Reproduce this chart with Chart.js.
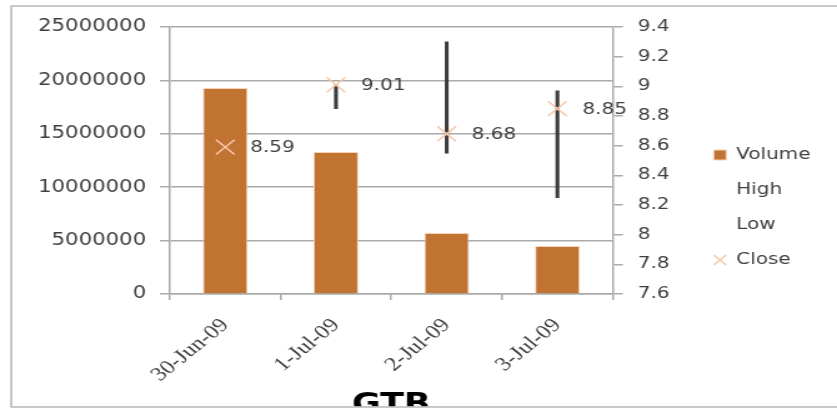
<!DOCTYPE html>
<html>
<head>
<meta charset="utf-8">
<script src="https://cdn.jsdelivr.net/npm/chart.js@4/dist/chart.umd.min.js"></script>
<style>
  html, body { margin: 0; padding: 0; background: #ffffff; }
</style>
</head>
<body>
<!-- The chart is drawn on a narrower canvas and shown stretched across the page width. -->
<canvas id="gtb" width="670" height="409" style="display:block;width:837px;height:409px;"></canvas>
<script>
// GTB daily trading, 30 Jun – 3 Jul 2009
const dates  = ['30-Jun-09', '1-Jul-09', '2-Jul-09', '3-Jul-09'];
const volume = [19300000, 13300000, 5700000, 4500000];
const high   = [8.80, 9.01, 9.30, 8.97];
const low    = [8.50, 8.85, 8.55, 8.25];
const close  = [8.59, 9.01, 8.68, 8.85];

const BAR_FILL = '#c17332';
const BAR_EDGE = '#f6d2b6';
const CLOSE_COLOR = '#f8c6a8';
const HILO_COLOR = '#3c3c3c';
const TEXT = '#404040';
const GRID = '#aaaaaa';

// Close price written beside each cross marker
const closeLabels = {
  id: 'closeLabels',
  afterDatasetsDraw(chart) {
    const idx = chart.data.datasets.findIndex(d => d.label === 'Close');
    const meta = chart.getDatasetMeta(idx);
    const ctx = chart.ctx;
    ctx.save();
    ctx.font = '16px "DejaVu Sans"';
    ctx.fillStyle = TEXT;
    ctx.textAlign = 'left';
    ctx.textBaseline = 'middle';
    meta.data.forEach((pt, i) => {
      ctx.fillText(close[i].toFixed(2), pt.x + 20, pt.y + 1);
    });
    ctx.restore();
  }
};

// Outer frame around the chart; its bottom edge trims the title
const frame = {
  id: 'frame',
  afterDraw(chart) {
    const ctx = chart.ctx;
    ctx.save();
    ctx.fillStyle = '#ffffff';
    ctx.fillRect(0, 406.5, chart.width, 3);
    ctx.strokeStyle = '#b8b8b8';
    ctx.lineWidth = 1.6;
    ctx.beginPath();
    ctx.moveTo(chart.width + 5, 6);
    ctx.lineTo(9, 6);
    ctx.lineTo(9, 407);
    ctx.lineTo(chart.width + 5, 407);
    ctx.stroke();
    ctx.restore();
  }
};

new Chart(document.getElementById('gtb'), {
  type: 'bar',
  data: {
    labels: dates,
    datasets: [
      {
        label: 'Volume',
        type: 'bar',
        data: volume,
        yAxisID: 'y',
        backgroundColor: BAR_FILL,
        borderColor: BAR_EDGE,
        borderWidth: 1,
        grouped: false,
        barPercentage: 0.405,
        categoryPercentage: 1,
        order: 2
      },
      {
        label: 'High-Low',
        type: 'bar',
        data: dates.map((_, i) => [low[i], high[i]]),
        yAxisID: 'y1',
        backgroundColor: HILO_COLOR,
        borderWidth: 0,
        grouped: false,
        barThickness: 2.4,
        order: 3
      },
      {
        label: 'High',
        type: 'line',
        data: high,
        yAxisID: 'y1',
        showLine: false,
        pointRadius: 0,
        pointHoverRadius: 0,
        order: 4
      },
      {
        label: 'Low',
        type: 'line',
        data: low,
        yAxisID: 'y1',
        showLine: false,
        pointRadius: 0,
        pointHoverRadius: 0,
        order: 4
      },
      {
        label: 'Close',
        type: 'line',
        data: close,
        yAxisID: 'y1',
        showLine: false,
        pointStyle: 'crossRot',
        pointRadius: 10.5,
        pointBorderWidth: 1.5,
        pointBorderColor: CLOSE_COLOR,
        pointBackgroundColor: CLOSE_COLOR,
        order: 0
      }
    ]
  },
  options: {
    responsive: false,
    animation: false,
    devicePixelRatio: 1,
    layout: { padding: { top: 27, left: 0, right: 11.2, bottom: 0 } },
    plugins: {
      tooltip: { enabled: false },
      legend: {
        position: 'right',
        align: 'start',
        title: { display: true, text: '', padding: { top: 81.8, bottom: 0 }, font: { size: 16 } },
        labels: {
          usePointStyle: true,
          boxWidth: 10,
          boxHeight: 10,
          padding: 19,
          color: TEXT,
          font: { family: '"DejaVu Sans"', size: 16 },
          generateLabels(chart) {
            return ['Volume', 'High', 'Low', 'Close'].map(name => {
              const i = chart.data.datasets.findIndex(d => d.label === name);
              const item = { text: name, datasetIndex: i, hidden: false, fontColor: TEXT };
              if (name === 'Volume') {
                Object.assign(item, { pointStyle: 'rect', fillStyle: BAR_FILL, strokeStyle: BAR_EDGE, lineWidth: 1 });
              } else if (name === 'Close') {
                Object.assign(item, { pointStyle: 'crossRot', fillStyle: CLOSE_COLOR, strokeStyle: CLOSE_COLOR, lineWidth: 1.5 });
              } else {
                Object.assign(item, { pointStyle: 'line', fillStyle: 'rgba(0,0,0,0)', strokeStyle: 'rgba(0,0,0,0)', lineWidth: 0 });
              }
              return item;
            });
          }
        }
      },
      title: {
        display: true,
        text: 'GTB',
        position: 'bottom',
        fullSize: false,
        color: '#000000',
        font: { family: '"DejaVu Sans"', size: 28, weight: 'bold' },
        padding: { top: 0.3, bottom: -13.3 }
      }
    },
    scales: {
      x: {
        offset: true,
        grid: { display: true, drawOnChartArea: false, drawTicks: true, tickLength: 6, color: GRID, lineWidth: 1.5 },
        border: { color: GRID, width: 1.5 },
        ticks: {
          minRotation: 45,
          maxRotation: 45,
          autoSkip: false,
          padding: 14,
          color: TEXT,
          font: { family: '"Liberation Serif"', size: 19.5 }
        },
        afterFit(axis) { axis.height = 94.4; }
      },
      y: {
        position: 'left',
        min: 0,
        max: 25000000,
        ticks: {
          stepSize: 5000000,
          padding: 11,
          color: TEXT,
          font: { family: '"DejaVu Sans"', size: 17 },
          callback: v => String(v)
        },
        grid: { color: GRID, lineWidth: 1.5, tickLength: 8 },
        border: { color: GRID, width: 1.5 },
        afterFit(axis) { axis.width = 136; }
      },
      y1: {
        position: 'right',
        min: 7.6,
        max: 9.4,
        ticks: {
          stepSize: 0.2,
          padding: 12,
          color: TEXT,
          font: { family: '"DejaVu Sans"', size: 16 },
          callback: v => String(Math.round(v * 10) / 10)
        },
        grid: { drawOnChartArea: false, color: GRID, lineWidth: 1.5, tickLength: 8 },
        border: { color: GRID, width: 1.5 },
        afterFit(axis) { axis.width = 61.8; }
      }
    }
  },
  plugins: [closeLabels, frame]
});
</script>
</body>
</html>
